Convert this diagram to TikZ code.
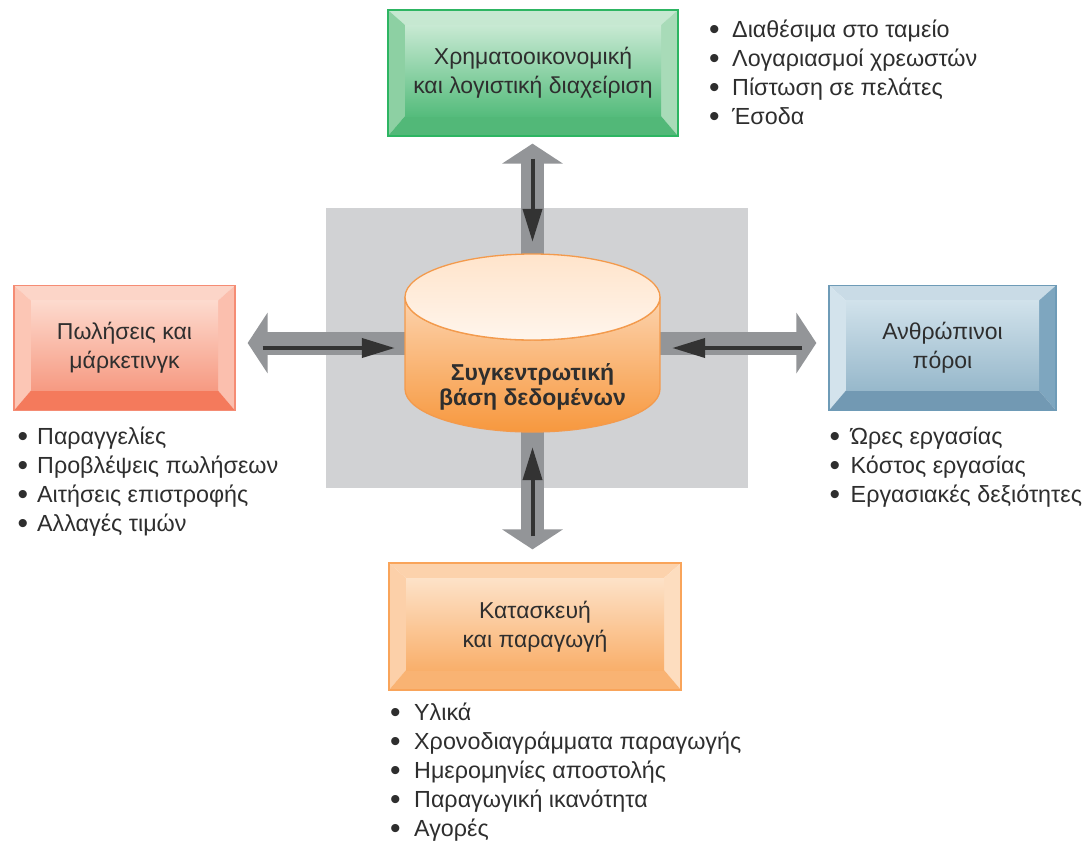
\documentclass[tikz,border=0pt]{standalone}
\usepackage{fontspec}
\setmainfont{Liberation Sans}
\usetikzlibrary{arrows.meta,calc}
\pgfdeclarelayer{bg}
\pgfsetlayers{bg,main}
\definecolor{txt}{HTML}{2E2E2E}
\definecolor{panel}{HTML}{D1D2D4}
\definecolor{arrgray}{HTML}{939598}
\definecolor{arrdark}{HTML}{333333}
% green
\definecolor{GRbd}{HTML}{2DB562}
\definecolor{GRtop}{HTML}{C6E8D1}
\definecolor{GRleft}{HTML}{8DD0A3}
\definecolor{GRright}{HTML}{A8DBB8}
\definecolor{GRbot}{HTML}{52B878}
\definecolor{GRft}{HTML}{C8E9D3}
\definecolor{GRfb}{HTML}{55BC7C}
% red
\definecolor{RDbd}{HTML}{F58C74}
\definecolor{RDtop}{HTML}{FCD5C8}
\definecolor{RDleft}{HTML}{FCC6B5}
\definecolor{RDright}{HTML}{FBBFAE}
\definecolor{RDbot}{HTML}{F47A5C}
\definecolor{RDft}{HTML}{FDDACE}
\definecolor{RDfb}{HTML}{F69A82}
% blue
\definecolor{BLbd}{HTML}{6E9BB7}
\definecolor{BLtop}{HTML}{C9DBE6}
\definecolor{BLleft}{HTML}{D3E3EC}
\definecolor{BLright}{HTML}{7EA6BF}
\definecolor{BLbot}{HTML}{7299B3}
\definecolor{BLft}{HTML}{D1E2EB}
\definecolor{BLfb}{HTML}{97B8CB}
% orange
\definecolor{ORbd}{HTML}{F9A45A}
\definecolor{ORtop}{HTML}{FCD2AC}
\definecolor{ORleft}{HTML}{FCD0A9}
\definecolor{ORright}{HTML}{FDDDBF}
\definecolor{ORbot}{HTML}{F9B373}
\definecolor{ORft}{HTML}{FDE2C8}
\definecolor{ORfb}{HTML}{F9AF6B}
% cylinder
\definecolor{CYbd}{HTML}{F39A4C}
\definecolor{CYbt}{HTML}{FCD3AE}
\definecolor{CYbb}{HTML}{F7983E}
\definecolor{CYtt}{HTML}{FFE4CB}
\definecolor{CYtb}{HTML}{FFF5EC}
\newcommand{\bl}[1]{\makebox[#1][l]{\raisebox{-2.5pt}{\fontsize{30}{29}\selectfont•}}}
\begin{document}
\begin{tikzpicture}[x=1pt,y=-1pt,
  bevelbox/.style={rectangle, draw=#1bd, line width=1.3pt, inner sep=0pt,
    align=center, text=txt, font=\fontsize{23}{29}\selectfont,
    path picture={
      \coordinate (@sw) at (path picture bounding box.south west);
      \coordinate (@ne) at (path picture bounding box.north east);
      \coordinate (@nw) at (@sw |- @ne);
      \coordinate (@se) at (@ne |- @sw);
      \coordinate (@inw) at ([shift={(17pt,-15pt)}]@nw);
      \coordinate (@ine) at ([shift={(-17pt,-15pt)}]@ne);
      \coordinate (@isw) at ([shift={(17pt,20pt)}]@sw);
      \coordinate (@ise) at ([shift={(-17pt,20pt)}]@se);
      \fill[#1top] (@nw) -- (@ne) -- (@ine) -- (@inw) -- cycle;
      \fill[#1left] (@nw) -- (@inw) -- (@isw) -- (@sw) -- cycle;
      \fill[#1right] (@ne) -- (@se) -- (@ise) -- (@ine) -- cycle;
      \fill[#1bot] (@sw) -- (@isw) -- (@ise) -- (@se) -- cycle;
      \shade[top color=#1ft, bottom color=#1fb] (@inw) rectangle (@ise);
    }},
  listnode/.style={anchor=north west, inner sep=0pt, align=left, text=txt,
    font=\fontsize{23.3}{29}\selectfont},
  grayarrow/.style={arrgray, line width=23pt,
    -{Triangle[width=60pt,length=20pt]}},
  darkarrow/.style={arrdark, line width=4pt,
    -{Triangle[width=19pt,length=33pt]}}
]
\useasboundingbox (0,0) rectangle (1089,841);

% boxes
\node[bevelbox=GR, minimum width=290pt, minimum height=126pt] (fin) at (533,73)
  {Χρηματοοικονομική\\και λογιστική διαχείριση};
\node[bevelbox=RD, minimum width=221pt, minimum height=125pt] (sales) at (124.5,348)
  {Πωλήσεις και\\μάρκετινγκ};
\node[bevelbox=BL, minimum width=227pt, minimum height=125pt] (hr) at (942.5,348)
  {Ανθρώπινοι\\πόροι};
\node[bevelbox=OR, minimum width=292pt, minimum height=127pt] (man) at (535,626.5)
  {Κατασκευή\\και παραγωγή};

% cylinder
\shade[top color=CYbt, bottom color=CYbb, draw=CYbd, line width=1.3pt]
  (405,297) -- (405,389) arc[start angle=180, end angle=360, x radius=127.5pt, y radius=43pt]
  -- (660,297) arc[start angle=0, end angle=-180, x radius=127.5pt, y radius=43pt] -- cycle;
\shade[top color=CYtt, bottom color=CYtb, draw=CYbd, line width=1.3pt]
  (532.5,297) ellipse[x radius=127.5pt, y radius=43pt];
\node[minimum width=255pt, minimum height=178pt, inner sep=0pt] (db) at (532.5,343) {};
\node[font=\bfseries\fontsize{23}{25}\selectfont, align=center, text=txt] (dbtext)
  at (532.5,387) {Συγκεντρωτική\\βάση δεδομένων};

% background, panel and gray arrows
\begin{pgfonlayer}{bg}
  \fill[white] (0,0) rectangle (1089,841);
  \fill[panel] (326,208) rectangle (748,488);
  \draw[grayarrow, shorten >=7pt] (db.center) -- (db.center |- fin.south);
  \draw[grayarrow, shorten >=12pt] (db.center) -- (db.center -| sales.east);
  \draw[grayarrow, shorten >=12pt] (db.center) -- (db.center -| hr.west);
  \draw[grayarrow, shorten >=13pt] (db.center) -- (db.center |- man.north);
\end{pgfonlayer}

% inner dark arrows (towards the database)
\draw[darkarrow, shorten <=22pt, shorten >=12pt] (db.north |- fin.south) -- (db.north);
\draw[darkarrow, shorten <=27pt, shorten >=10pt] (sales.east) -- (sales.east -| db.west);
\draw[darkarrow, shorten <=26pt, shorten >=12pt] (hr.west) -- (hr.west -| db.east);
\draw[darkarrow, shorten <=26pt, shorten >=15pt] (db.south |- man.north) -- (db.south);

% lists
\node[listnode] (finlist) at (709,16.7)
  {\strut\bl{23pt}Διαθέσιμα στο ταμείο\\\bl{23pt}Λογαριασμοί χρεωστών\\\bl{23pt}Πίστωση σε πελάτες\\\bl{23pt}Έσοδα};
\node[listnode] (saleslist) at (17.5,423.7)
  {\strut\bl{19.5pt}Παραγγελίες\\\bl{19.5pt}Προβλέψεις πωλήσεων\\\bl{19.5pt}Αιτήσεις επιστροφής\\\bl{19.5pt}Αλλαγές τιμών};
\node[listnode] (hrlist) at (829.5,423.7)
  {\strut\bl{21pt}Ώρες εργασίας\\\bl{21pt}Κόστος εργασίας\\\bl{21pt}Εργασιακές δεξιότητες};
\node[listnode] (manlist) at (390,699.7)
  {\strut\bl{24pt}Υλικά\\\bl{24pt}Χρονοδιαγράμματα παραγωγής\\\bl{24pt}Ημερομηνίες αποστολής\\\bl{24pt}Παραγωγική ικανότητα\\\bl{24pt}Αγορές};
\end{tikzpicture}
\end{document}
